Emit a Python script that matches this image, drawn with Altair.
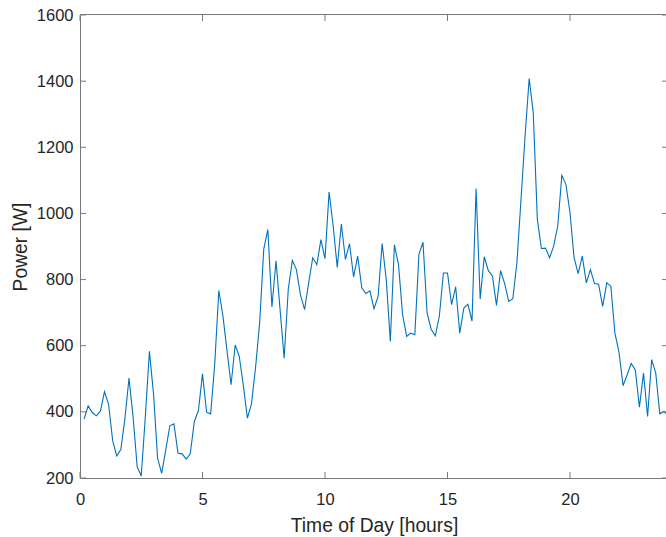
import altair as alt
import pandas as pd

# ---- data (one value every 10 minutes) ----
power = [
    378, 418, 398, 388, 402, 461, 423, 313, 267, 286, 380, 502,
    385, 234, 206, 386, 583, 455, 260, 214, 285, 358, 364, 275,
    273, 257, 273, 371, 404, 515, 399, 394, 545, 767, 690, 585,
    482, 602, 568, 480, 381, 425, 535, 669, 892, 951, 717, 857,
    709, 562, 770, 858, 830, 754, 709, 790, 866, 845, 921, 863,
    1065, 962, 837, 968, 861, 909, 808, 871, 775, 758, 766, 712,
    749, 909, 800, 613, 905, 845, 694, 628, 638, 633, 876, 913,
    699, 650, 630, 689, 820, 820, 724, 778, 638, 714, 725, 674,
    1075, 741, 869, 827, 811, 722, 827, 788, 734, 742, 851, 1042,
    1234, 1408, 1305, 982, 894, 895, 866, 901, 962, 1115, 1088, 1002,
    866, 818, 871, 790, 830, 788, 786, 719, 790, 780, 638, 580,
    479, 512, 546, 527, 414, 517, 386, 558, 517, 394, 401, 391,
]
hours = [(i + 1) / 6 for i in range(len(power))]
x_ticks = [0, 5, 10, 15, 20]
y_ticks = [200, 400, 600, 800, 1000, 1200, 1400, 1600]

# ---- layout ----
W, H = 586, 463
X_MAX = 24 * W / 588  # right part of the axes is cropped in the reference
AX = "#7a7a7a"
TXT = "#262626"
FONT = "Liberation Sans"

df = pd.DataFrame({"t": hours, "p": power})
xt = pd.DataFrame({"t": x_ticks})
yt = pd.DataFrame({"p": y_ticks})

xscale = alt.Scale(domain=[0, X_MAX], nice=False, zero=False)
yscale = alt.Scale(domain=[200, 1600], nice=False, zero=False)

x_axis = alt.Axis(
    values=x_ticks, ticks=False, grid=False, domain=True, format="d",
    labelFlush=False, labelOverlap=False,
    domainColor=AX, domainWidth=1, labelPadding=13,
    labelFont=FONT, labelFontSize=16.5, labelColor=TXT,
    title="Time of Day [hours]", titleFont=FONT, titleFontSize=19.3,
    titleFontWeight="normal", titleColor=TXT, titleX=294, titleY=53.5,
    titleAlign="center", titleBaseline="alphabetic")
y_axis = alt.Axis(
    values=y_ticks, ticks=False, grid=False, domain=True, format="d",
    labelFlush=False, labelOverlap=False,
    domainColor=AX, domainWidth=1, labelPadding=7,
    labelFont=FONT, labelFontSize=16.5, labelColor=TXT,
    title="Power [W]", titleFont=FONT, titleFontSize=19.3,
    titleFontWeight="normal", titleColor=TXT, titleAngle=270,
    titleX=-54, titleY=H / 2, titleAlign="center",
    titleBaseline="alphabetic")

line = alt.Chart(df).mark_line(color="#0072BD", strokeWidth=1.1, clip=True).encode(
    x=alt.X("t:Q", scale=xscale, axis=x_axis),
    y=alt.Y("p:Q", scale=yscale, axis=y_axis),
)

# top border
top = alt.Chart(xt).mark_rule(color=AX, strokeWidth=1).encode(
    x=alt.value(0), x2=alt.value(W), y=alt.value(-0.5),
)

# inward tick marks
bottom_ticks = alt.Chart(xt).mark_rule(color=AX, strokeWidth=1).encode(
    x=alt.X("t:Q", scale=xscale, axis=x_axis),
    y=alt.value(H), y2=alt.value(H - 6),
)
top_ticks = alt.Chart(xt).mark_rule(color=AX, strokeWidth=1).encode(
    x=alt.X("t:Q", scale=xscale, axis=x_axis),
    y=alt.value(0), y2=alt.value(6),
)
left_ticks = alt.Chart(yt).mark_rule(color=AX, strokeWidth=1).encode(
    y=alt.Y("p:Q", scale=yscale, axis=y_axis),
    x=alt.value(0), x2=alt.value(6),
)
right_ticks = alt.Chart(yt).mark_rule(color=AX, strokeWidth=1).encode(
    y=alt.Y("p:Q", scale=yscale, axis=y_axis),
    x=alt.value(W - 4), x2=alt.value(W + 2),
)

chart = alt.layer(
    line, bottom_ticks, top_ticks, left_ticks, right_ticks, top
).properties(
    width=W, height=H,
    autosize=alt.AutoSizeParams(type="none"),
    padding={"left": 80, "top": 15, "right": 0, "bottom": 59},
    background="white",
).configure_view(stroke=None)

chart.save("out.html", embed_options={"renderer": "svg", "actions": False})
